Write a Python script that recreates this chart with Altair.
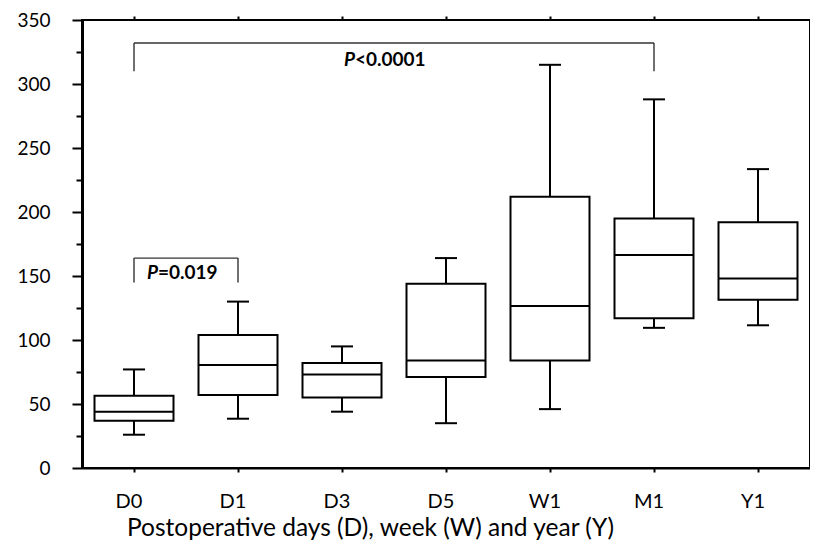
import altair as alt
import pandas as pd

cats = ["D0", "D1", "D3", "D5", "W1", "M1", "Y1"]
wmin = [26, 38.5, 44, 35, 46, 109.5, 111.5]
q1 = [37, 57, 55, 71, 84, 117, 131.5]
med = [44, 80.5, 73, 84, 126.5, 166.5, 148]
q3 = [56.5, 104, 82, 144, 212, 195, 192]
wmax = [77, 130, 95, 164, 315, 288, 233.5]

br_from = ["D0", "D0"]
br_to = ["M1", "D1"]
br_top = [332, 164]
br_bot = [310, 145]
p_label = ["<0.0001", "=0.019"]
p_at = ["D3", "D0"]
p_y = [314, 148]
p_dx = [2, 13]  # text style offsets (px)

df = pd.DataFrame({"cat": cats, "lo": wmin, "q1": q1, "med": med, "q3": q3, "hi": wmax})
bdf = pd.DataFrame({"x1": br_from, "x2": br_to, "top": br_top, "bot": br_bot})
ends = []
for a, b, t, bt in zip(br_from, br_to, br_top, br_bot):
    ends.append({"cat": a, "top": t, "bot": bt})
    ends.append({"cat": b, "top": t, "bot": bt})
edf = pd.DataFrame(ends)

FONT = "Lato"
W, H = 728, 448
xs = alt.Scale(domain=cats, paddingInner=0, paddingOuter=0)
ys = alt.Scale(domain=[0, 350], nice=False, zero=True)

xaxis = alt.Axis(title="Postoperative days (D), week (W) and year (Y)", labelAngle=0,
                 tickSize=4, tickWidth=2, tickColor="black", domain=True, domainColor="black",
                 domainWidth=2, labelFontSize=20, labelPadding=35, labelBaseline="alphabetic",
                 labelOffset=-5, labelColor="black",
                 labelFont=FONT, titleFont=FONT, titleFontSize=24.5, titleFontWeight="normal",
                 titleColor="black", titleX=288, titleY=67, titleAlign="center",
                 titleBaseline="alphabetic", grid=False)
yaxis = alt.Axis(title=None, values=list(range(0, 351, 50)), tickSize=10, tickWidth=2,
                 tickColor="black", domain=True, domainColor="black", domainWidth=3,
                 labelFontSize=19, labelFont=FONT, labelColor="black", labelPadding=22,
                 grid=False)

X = alt.X("cat:N", scale=xs, axis=xaxis, sort=cats)


def Y(field):
    return alt.Y(field, scale=ys, axis=yaxis)


base = alt.Chart(df)
whisk_hi = base.mark_rule(strokeWidth=2, color="black").encode(x=X, y=Y("q3:Q"), y2="hi:Q")
whisk_lo = base.mark_rule(strokeWidth=2, color="black").encode(x=X, y=Y("lo:Q"), y2="q1:Q")
cap_hi = base.mark_tick(size=22, thickness=2, color="black", opacity=1).encode(x=X, y=Y("hi:Q"))
cap_lo = base.mark_tick(size=22, thickness=2, color="black", opacity=1).encode(x=X, y=Y("lo:Q"))
boxes = base.mark_bar(width=79, fill="white", stroke="black", strokeWidth=2, opacity=1).encode(
    x=X, y=Y("q1:Q"), y2="q3:Q")
medians = base.mark_tick(size=79, thickness=2, color="black", opacity=1).encode(x=X, y=Y("med:Q"))

hbr = alt.Chart(bdf).mark_rule(strokeWidth=1.4, color="#333333").encode(
    x=alt.X("x1:N", scale=xs, axis=xaxis, sort=cats), x2="x2:N", y=Y("top:Q"))
vbr = alt.Chart(edf).mark_rule(strokeWidth=1.4, color="#333333").encode(
    x=X, y=Y("bot:Q"), y2="top:Q")

texts = []
for lab, at, yy, dx in zip(p_label, p_at, p_y, p_dx):
    tdf = pd.DataFrame({"cat": [at], "y": [yy], "p": ["P"], "rest": [lab]})
    texts.append(alt.Chart(tdf).mark_text(font=FONT, fontSize=19, fontWeight="bold",
                                          fontStyle="italic", align="left",
                                          baseline="alphabetic", color="black", dx=dx).encode(
        x=X, y=Y("y:Q"), text="p:N"))
    texts.append(alt.Chart(tdf).mark_text(font=FONT, fontSize=19, fontWeight="bold",
                                          align="left", baseline="alphabetic", color="black",
                                          dx=dx + 11).encode(
        x=X, y=Y("y:Q"), text="rest:N"))

main = alt.layer(whisk_hi, whisk_lo, cap_hi, cap_lo, boxes, medians, hbr, vbr, *texts)

frame = alt.Chart(df).mark_point(opacity=0).encode(
    x=alt.X("cat:N", scale=xs, sort=cats,
            axis=alt.Axis(orient="top", labels=False, title=None, tickSize=4, tickWidth=2,
                          tickColor="black", domain=False, grid=False)),
    y=alt.Y("med:Q", scale=ys,
            axis=alt.Axis(orient="right", labels=False, title=None,
                          values=list(range(0, 351, 25)), tickSize=5, tickWidth=2,
                          tickColor="black", domain=False, grid=False)))

minor = alt.Chart(df).mark_point(opacity=0).encode(
    x=alt.X("cat:N", scale=xs, sort=cats, axis=None),
    y=alt.Y("med:Q", scale=ys,
            axis=alt.Axis(orient="left", labels=False, title=None,
                          values=list(range(25, 351, 50)), tickSize=6, tickWidth=2,
                          tickColor="black", domain=False, grid=False)))

chart = alt.layer(main, frame, minor).resolve_scale(x="independent", y="independent").properties(
    width=W, height=H, autosize="none",
    padding={"left": 74, "top": 12, "right": 0, "bottom": 72},
    background="white",
).configure_view(stroke="black", strokeWidth=2)

chart.save("out.html", embed_options={"renderer": "svg", "actions": False})
